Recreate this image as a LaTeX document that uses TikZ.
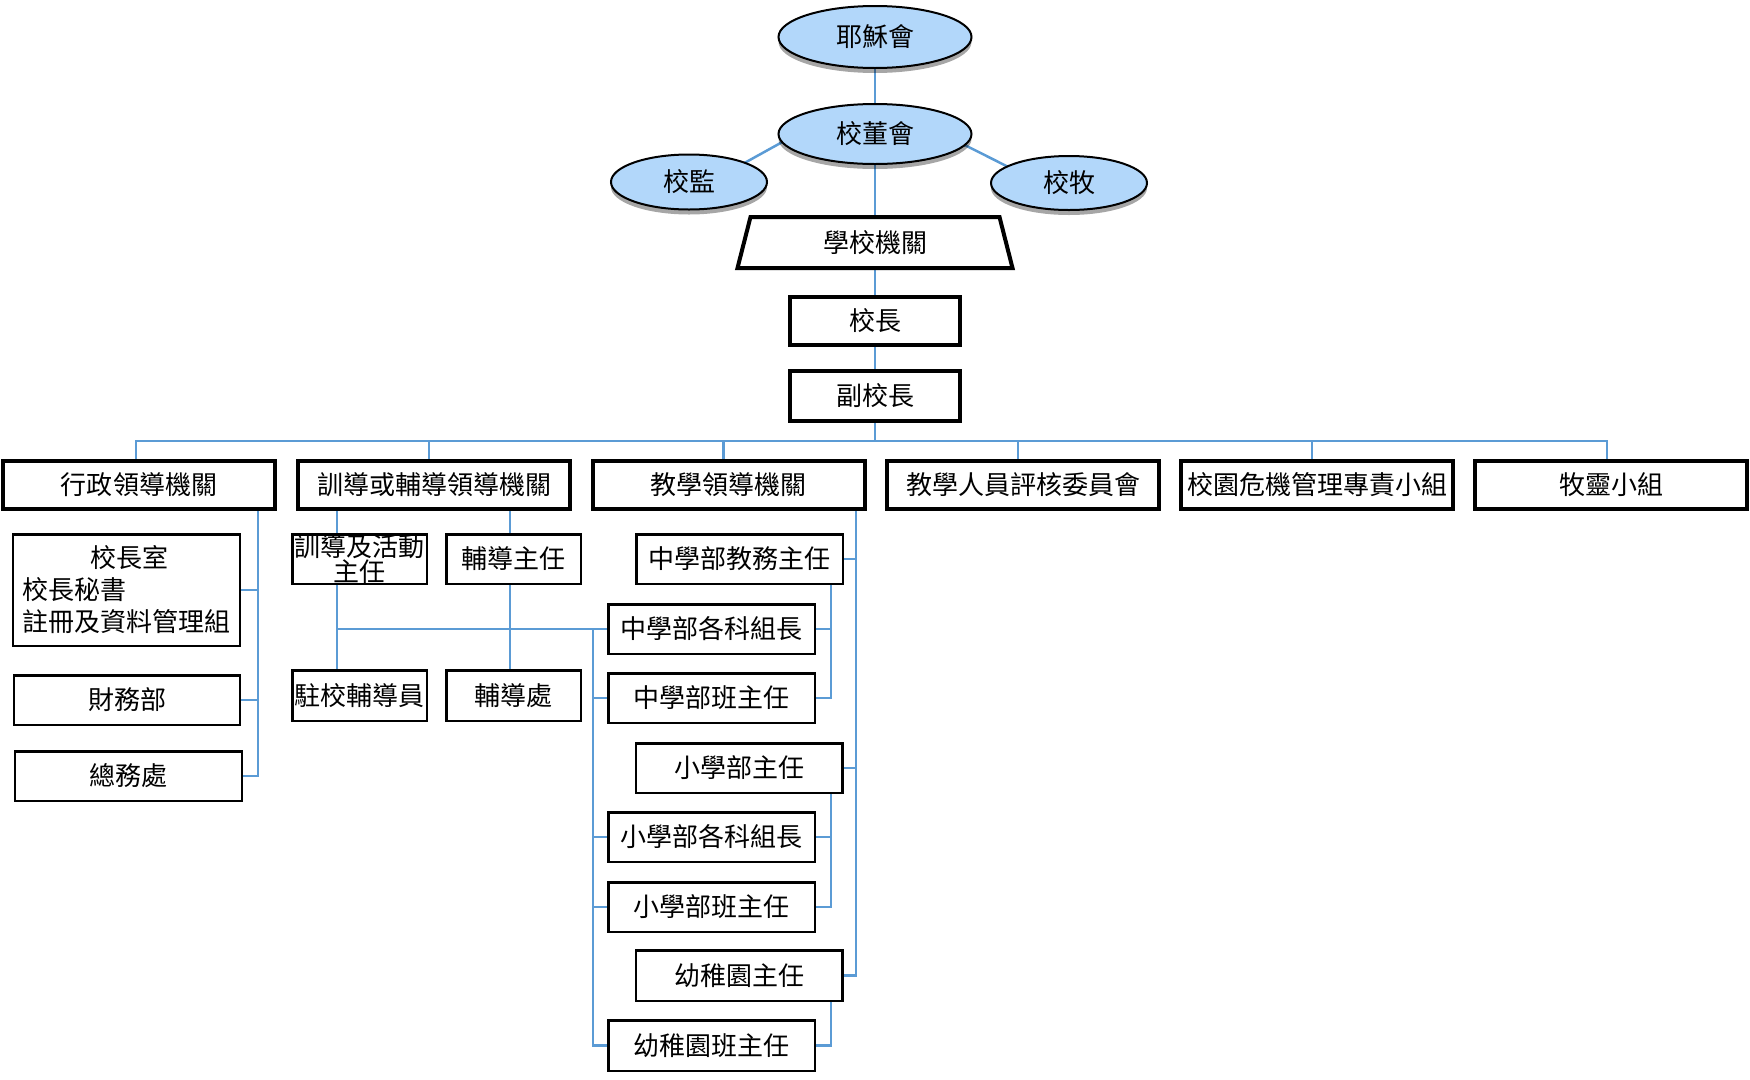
\documentclass[tikz,border=0pt]{standalone}
\usepackage{fontspec}
\newfontfamily\cjk{Noto Sans CJK TC}
\usetikzlibrary{shapes.geometric,shadows,backgrounds,calc}
\definecolor{lnblue}{RGB}{91,155,213}
\definecolor{elfill}{RGB}{178,215,250}
\begin{document}
\begin{tikzpicture}[x=1bp,y=-1bp,
  every node/.style={font=\cjk\fontsize{26bp}{32bp}\selectfont, inner sep=0pt, outer sep=0pt},
  oval/.style={ellipse, draw=black, line width=2bp, fill=elfill,
    drop shadow={shadow xshift=0bp, shadow yshift=-5bp, opacity=0.35, fill=black}},
  bigbox/.style={draw, line width=4bp, fill=white, minimum width=272bp, minimum height=48bp},
  midbox/.style={draw, line width=4bp, fill=white, minimum width=170bp},
  subbox/.style={draw, line width=2.5bp, fill=white, minimum height=49.5bp},
  conn/.style={draw=lnblue, line width=2.5bp}]
\useasboundingbox (0,0) rectangle (1750,1079);

% governing bodies
\node[oval, minimum width=193bp, minimum height=62bp] (jesuit) at (875,37) {耶穌會};
\node[oval, minimum width=193bp, minimum height=60bp] (board) at (875,134) {校董會};
\node[oval, minimum width=156bp, minimum height=55bp] (superv) at (689,182) {校監};
\node[oval, minimum width=156bp, minimum height=54bp] (chaplain) at (1069,183) {校牧};

\node[minimum width=249bp, minimum height=51bp] (school) at (875,242.5) {學校機關};
\draw[line width=4bp] (school.north west) -- (school.north east)
  -- ($(school.south east)+(13,0)$) -- ($(school.south west)+(-13,0)$) -- cycle;

\node[midbox, minimum height=48bp] (princ) at (875,321) {校長};
\node[midbox, minimum height=50bp] (vice) at (875,396) {副校長};

% top row
\node[bigbox] (adm) at (139,485) {行政領導機關};
\node[bigbox] (disc) at (434,485) {訓導或輔導領導機關};
\node[bigbox] (teach) at (728.5,485) {教學領導機關};
\node[bigbox] (eval) at (1023,485) {教學人員評核委員會};
\node[bigbox] (crisis) at (1317,485) {校園危機管理專責小組};
\node[bigbox] (past) at (1611,485) {牧靈小組};

% administration
\node[subbox, minimum width=226.5bp, minimum height=111.5bp, align=left] (office) at (126.5,590)
  {\hspace*{68bp}校長室\\校長秘書\\註冊及資料管理組};
\node[subbox, minimum width=225.5bp] (finance) at (127,700) {財務部};
\node[subbox, minimum width=226.5bp] (general) at (128.5,776) {總務處};

% discipline / guidance
\node[subbox, minimum width=134.5bp, font=\cjk\fontsize{26bp}{25bp}\selectfont, align=center] (discdir) at (359.5,559) {訓導及活動\\主任};
\node[subbox, minimum width=134.5bp] (guiddir) at (513.5,559) {輔導主任};
\node[subbox, minimum width=134.5bp, minimum height=50.5bp] (counsel) at (359.5,695.5) {駐校輔導員};
\node[subbox, minimum width=134.5bp, minimum height=50.5bp] (guidoff) at (513.5,695.5) {輔導處};

% teaching
\node[subbox, minimum width=206.5bp] (sa) at (739.5,559) {中學部教務主任};
\node[subbox, minimum width=206.5bp] (sb) at (711.5,629) {中學部各科組長};
\node[subbox, minimum width=206.5bp] (sc) at (711.5,698) {中學部班主任};
\node[subbox, minimum width=206.5bp] (pa) at (739,768) {小學部主任};
\node[subbox, minimum width=206.5bp] (pb) at (711.5,837) {小學部各科組長};
\node[subbox, minimum width=206.5bp] (pc) at (711.5,907) {小學部班主任};
\node[subbox, minimum width=206.5bp, minimum height=50.5bp] (ka) at (739,975.5) {幼稚園主任};
\node[subbox, minimum width=206.5bp, minimum height=50.5bp] (kb) at (711.5,1045.5) {幼稚園班主任};

\coordinate (bus) at (875,441);
\coordinate (ax) at (258,0);
\coordinate (gx1) at (337,0);
\coordinate (gx2) at (510,0);
\coordinate (lx) at (593,0);
\coordinate (rx) at (856,0);
\coordinate (ix) at (831,0);

\begin{pgfonlayer}{background}
\draw[conn] (jesuit) -- (board);
\draw[conn] (board.185) -- (superv.19);
\draw[conn] (board.353) -- (chaplain.165);
\draw[conn] (board.south) -- (school.north);
\draw[conn] (school.south) -- (princ.north);
\draw[conn] (princ.south) -- (vice.north);
\draw[conn] (vice.south) -- (bus);
\draw[conn] ([xshift=-3bp]adm.north) -- ([xshift=-3bp]adm.north |- bus)
  -- ([xshift=-4bp]past.north |- bus) -- ([xshift=-4bp]past.north);
\foreach \n in {disc,teach,eval,crisis} {\draw[conn] ([xshift=-5bp]\n.north) -- ([xshift=-5bp]\n.north |- bus);}
% administration
\draw[conn] (adm.south -| ax) -- (general.east -| ax) -- (general.east);
\draw[conn] (office.east) -- (office.east -| ax);
\draw[conn] (finance.east) -- (finance.east -| ax);
% discipline / guidance
\draw[conn] (disc.south -| gx1) -- (counsel.north -| gx1);
\draw[conn] (disc.south -| gx2) -- (guidoff.north -| gx2);
\draw[conn] (sb.west -| gx1) -- (sb.west);
% teaching
\draw[conn] (sb.west -| lx) -- (kb.west -| lx) -- (kb.west);
\foreach \n in {sc,pb,pc} {\draw[conn] (\n.west) -- (\n.west -| lx);}
\draw[conn] (teach.south -| rx) -- (ka.east -| rx) -- (ka.east);
\foreach \n in {sa,pa} {\draw[conn] (\n.east) -- (\n.east -| rx);}
\draw[conn] (sa.south -| ix) -- (sc.east -| ix) -- (sc.east);
\draw[conn] (sb.east) -- (sb.east -| ix);
\draw[conn] (pa.south -| ix) -- (pc.east -| ix) -- (pc.east);
\draw[conn] (pb.east) -- (pb.east -| ix);
\draw[conn] (ka.south -| ix) -- (kb.east -| ix) -- (kb.east);
\end{pgfonlayer}
\end{tikzpicture}
\end{document}
